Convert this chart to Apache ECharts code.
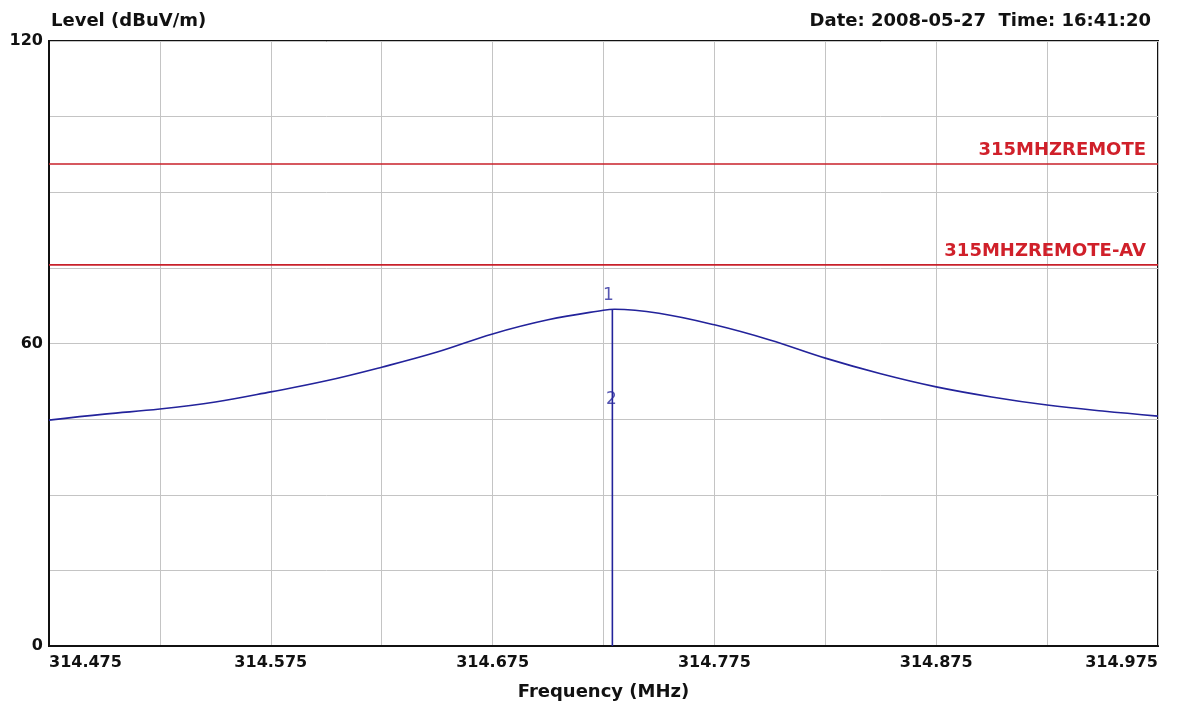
<!DOCTYPE html>
<html>
<head>
<meta charset="utf-8">
<script src="https://cdn.jsdelivr.net/npm/echarts@6/dist/echarts.min.js"></script>
<style>
html,body{margin:0;padding:0;background:#fff;}
#c{width:1184px;height:708px;}
</style>
</head>
<body>
<div id="c"></div>
<script>
// Frequency (MHz) samples of the measured trace
const freqs = [314.475,314.500,314.525,314.550,314.575,314.600,314.625,314.650,314.675,314.700,314.725,314.730,314.750,314.775,314.800,314.825,314.850,314.875,314.900,314.925,314.950,314.975];
// Level (dBuV/m)
const levels = [44.8,46.0,47.0,48.4,50.4,52.6,55.3,58.3,61.9,64.7,66.6,66.8,66.0,63.7,60.7,57.1,54.0,51.4,49.4,47.8,46.6,45.6];
// Limit lines
const limitNames = ['315MHZREMOTE','315MHZREMOTE-AV'];
const limitValues = [95.6, 75.6];
// Markers
const markerFreq = 314.729;
const markerLabels = ['1','2'];
const markerLevels = [66.8, 49.2];
// Axis
const xMin = 314.475, xMax = 314.975, xStep = 0.05;
const yMin = 0, yMax = 120, yStep = 15;
const yLabels = [0, 60, 120];

const chart = echarts.init(document.getElementById('c'), null, {renderer:'canvas'});
const font = '"DejaVu Sans", Verdana, sans-serif';

const series = [];
series.push({
  type:'line', name:'trace', data: freqs.map((f,i)=>[f,levels[i]]),
  smooth:0.4, symbol:'none', lineStyle:{color:'#23239b', width:1.6}, z:5, silent:true
});
limitNames.forEach((n,i)=>{
  series.push({
    type:'line', name:n, data:[[xMin,limitValues[i]],[xMax,limitValues[i]]],
    symbol:'none', lineStyle:{color:'#c8202a', width:1.6}, silent:true,
    endLabel:{show:true, formatter:n, offset:[-20,-14], align:'right',
      color:'#d0202a', fontWeight:'bold', fontSize:18, fontFamily:font}
  });
});
series.push({
  type:'line', name:'marker', data:[[markerFreq,0],[markerFreq,markerLevels[0]]],
  symbol:'none', lineStyle:{color:'#23239b', width:1.6}, silent:true, z:6
});
series.push({
  type:'scatter', name:'markerLabels', symbolSize:0, silent:true, z:7,
  data: markerLabels.map((l,i)=>({value:[markerFreq, markerLevels[i]], name:l,
    label:{show:true, formatter:l, position: i===0?'top':'inside', offset: i===0?[-4,0]:[-1,2],
      color:'#2a2a9e', fontSize:17, fontFamily:font}}))
});

chart.setOption({
  backgroundColor:'#fff',
  animation:false,
  title:[
    {text:'Level (dBuV/m)', left:46, top:7, textStyle:{fontFamily:font, fontWeight:'bold', fontSize:18, color:'#111'}},
    {text:'Date: 2008-05-27  Time: 16:41:20', right:28, top:7, textStyle:{fontFamily:font, fontWeight:'bold', fontSize:18, color:'#111'}},
  ],
  grid:{left:49, right:26, top:41, bottom:62, show:true, borderColor:'#111', borderWidth:2, backgroundColor:'#fff'},
  xAxis:{
    type:'value', min:xMin, max:xMax, interval:xStep,
    name:'Frequency (MHz)', nameLocation:'middle', nameGap:37,
    nameTextStyle:{fontFamily:font, fontWeight:'bold', fontSize:18, color:'#111'},
    axisLine:{show:true, lineStyle:{color:'#111', width:2}},
    axisTick:{show:false},
    splitLine:{show:true, lineStyle:{color:'#c4c4c4', width:1}},
    axisLabel:{
      fontFamily:font, fontWeight:'bold', fontSize:16, color:'#111', margin:9,
      alignMinLabel:'left', alignMaxLabel:'right',
      formatter:function(v){
        const k = Math.round((v - xMin)/xStep);
        return k % 2 === 0 ? v.toFixed(3) : '';
      }
    }
  },
  yAxis:{
    type:'value', min:yMin, max:yMax, interval:yStep,
    axisLine:{show:true, lineStyle:{color:'#111', width:2}},
    axisTick:{show:false},
    splitLine:{show:true, lineStyle:{color:'#c4c4c4', width:1}},
    axisLabel:{
      fontFamily:font, fontWeight:'bold', fontSize:16, color:'#111', margin:6,
      formatter:function(v){ return yLabels.indexOf(Math.round(v))>=0 ? String(Math.round(v)) : ''; }
    }
  },
  series:series
});
</script>
</body>
</html>
